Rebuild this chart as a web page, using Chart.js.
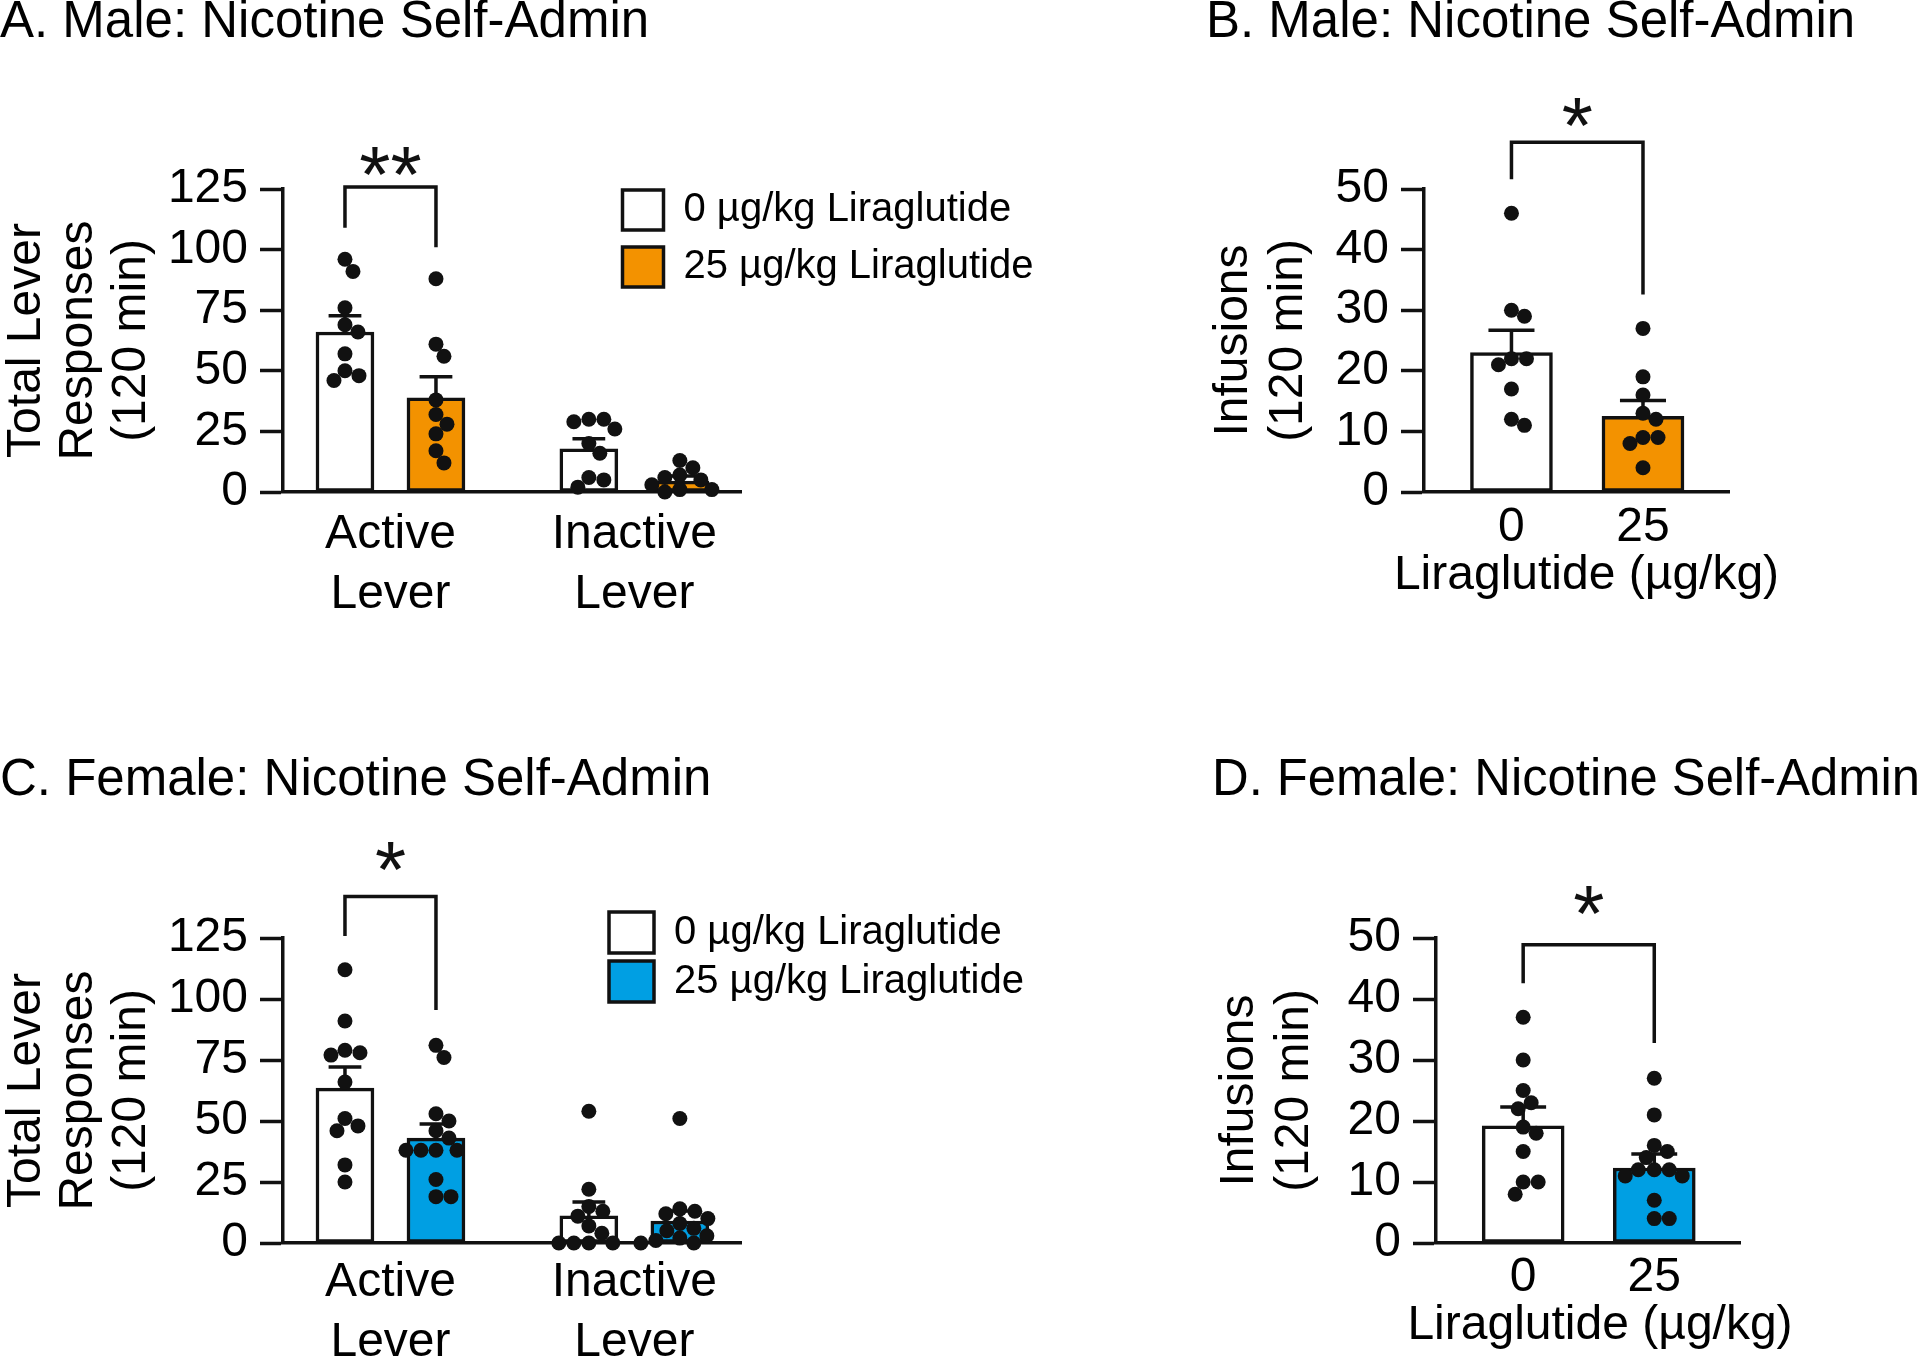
<!DOCTYPE html>
<html>
<head>
<meta charset="utf-8">
<title>Liraglutide – nicotine self-administration</title>
<script src="https://cdn.jsdelivr.net/npm/chart.js@4.4.1/dist/chart.umd.min.js"></script>
<style>
  html, body { margin: 0; padding: 0; background: #fff; }
  #page { position: relative; width: 1920px; height: 1362px; overflow: hidden; background: #fff; }
  canvas { position: absolute; }
</style>
</head>
<body>
<div id="page">
  <canvas id="panelA" width="1150" height="700" style="left:0px;top:0px;"></canvas>
  <canvas id="panelB" width="720" height="700" style="left:1200px;top:0px;"></canvas>
  <canvas id="panelC" width="1150" height="622" style="left:0px;top:740px;"></canvas>
  <canvas id="panelD" width="714" height="622" style="left:1206px;top:740px;"></canvas>
</div>
<script>
// ==========================
// DATA
// ==========================
const leverLabels = ["Active Lever", "Inactive Lever"];
const doseLabels = ["0", "25"];
const legendLabels = ["0 µg/kg Liraglutide", "25 µg/kg Liraglutide"];
const doseAxisTitle = "Liraglutide (µg/kg)";

// A. Male – total lever responses, one dot per rat
const maleActiveVeh = [96, 91, 76, 69, 66, 57, 50, 48, 46];
const maleActiveLira = [88, 61, 56, 38, 32, 28, 24, 17, 12];
const maleInactiveVeh = [30, 30, 29, 26, 20, 16, 6, 5, 2];
const maleInactiveLira = [13, 10, 7, 6, 5, 3, 1, 1, 0];
const maleLeverMeanVeh = [66, 17.8];     // [active, inactive]
const maleLeverMeanLira = [38.8, 4.5];
const maleLeverSemVeh = [6.7, 4.2];
const maleLeverSemLira = [8.7, 2.1];
const maleLeverBracket = [109, 125.8, 101]; // left leg end, top, right leg end

// B. Male – infusions
const maleInfVeh = [46, 30, 29, 22, 22, 21, 17, 12, 11];
const maleInfLira = [27, 19, 16, 13, 12, 9, 9, 8, 4];
const maleInfMean = [23, 12.5];
const maleInfSem = [3.7, 2.6];
const maleInfBracket = [51.6, 57.7, 32.6];

// C. Female – total lever responses
const femActiveVeh = [112, 91, 79, 78, 77, 66, 51, 48, 46, 32, 25];
const femActiveLira = [81, 76, 53, 50, 46, 43, 38, 38, 38, 38, 26, 19, 19];
const femInactiveVeh = [54, 22, 15, 13, 11, 7, 4, 0, 0, 0, 0];
const femInactiveLira = [51, 14, 13, 12, 10, 8, 6, 5, 3, 2, 1, 0, 0];
const femLeverMeanVeh = [63.5, 11.1];
const femLeverMeanLira = [43, 9];
const femLeverSemVeh = [8.6, 5.7];
const femLeverSemLira = [5.8, 4.1];
const femLeverBracket = [125.8, 142, 95.5];

// D. Female – infusions
const femInfVeh = [37, 30, 25, 23, 22, 19, 18, 15, 10, 10, 8];
const femInfLira = [27, 21, 16, 15, 14, 12, 12, 12, 11, 11, 7, 4, 4];
const femInfMean = [19.2, 12.3];
const femInfSem = [3.1, 2.3];
const femInfBracket = [42.6, 48.9, 32.8];

// ==========================
// STYLE
// ==========================
const FONT = '"Liberation Sans", Arial, Helvetica, sans-serif';
const INK = "#111111";
const WHITE = "#ffffff";
const ORANGE = "#f39200";
const BLUE = "#009fe3";
const DOT_R = 7.5;
const LINE_W = 3.5;
const LEVER_STEP = 2.68; // distance between lever groups, in bar units

Chart.defaults.font.family = FONT;
Chart.defaults.color = "#000";

const leverX = (s) => leverLabels.map((_, g) => g * LEVER_STEP + s);
const leverTicks = leverLabels.map((_, g) => g * LEVER_STEP + 0.5);

// ==========================
// PLUGINS
// ==========================
// legend placed at a fixed spot inside the plot
const legendSpot = {
  id: "legendSpot",
  afterLayout(chart, args, opts) {
    const lg = chart.legend;
    if (!lg || opts.x == null) return;
    const pad = lg.options.labels.padding;
    const w = lg.width, h = lg.height;
    lg.left = opts.x - pad;
    lg.top = opts.y - pad;
    lg.right = lg.left + w;
    lg.bottom = lg.top + h;
  }
};

// significance stars
const stars = {
  id: "stars",
  afterDatasetsDraw(chart, args, opts) {
    if (!opts.text) return;
    const { ctx, scales: { x, y } } = chart;
    ctx.save();
    ctx.font = `${opts.size}px ${FONT}`;
    ctx.fillStyle = INK;
    ctx.textAlign = "center";
    ctx.textBaseline = "alphabetic";
    const m = ctx.measureText(opts.text);
    const mid = (m.actualBoundingBoxAscent - m.actualBoundingBoxDescent) / 2;
    ctx.fillText(opts.text, x.getPixelForValue(opts.x), y.getPixelForValue(opts.y) + mid);
    ctx.restore();
  }
};

// x-axis caption that may be wider than the axis (scale titles get squeezed)
const caption = {
  id: "caption",
  afterDraw(chart, args, opts) {
    if (!opts.text) return;
    const { ctx, chartArea } = chart;
    ctx.save();
    ctx.font = `48px ${FONT}`;
    ctx.fillStyle = "#000";
    ctx.textAlign = "center";
    ctx.textBaseline = "middle";
    ctx.fillText(opts.text, (chartArea.left + chartArea.right) / 2 + opts.dx, opts.y);
    ctx.restore();
  }
};

// ==========================
// HELPERS
// ==========================
function errorBarPoints(xs, means, sems, capHalf) {
  const pts = [];
  xs.forEach((x, i) => {
    const top = means[i] + sems[i];
    pts.push({ x, y: means[i] }, { x, y: top }, { x, y: null },
             { x: x - capHalf, y: top }, { x: x + capHalf, y: top }, { x: x + capHalf, y: null });
  });
  return pts;
}

function bracketPoints(x0, x1, legs) {
  return [{ x: x0, y: legs[0] }, { x: x0, y: legs[1] }, { x: x1, y: legs[1] }, { x: x1, y: legs[2] }];
}

// simple beeswarm in pixel space so dots don't pile up
function beeswarm(values, center, xs, ys, r) {
  const cx = xs.getPixelForValue(center);
  const placed = [];
  return values.map(v => {
    const py = ys.getPixelForValue(v);
    let dx = 0;
    for (let k = 0; k < 300; k++) {
      const tries = k === 0 ? [0] : [k, -k];
      const hit = tries.find(t => placed.every(p => Math.hypot(p.x - (cx + t), p.y - py) >= 2 * r * 0.95));
      if (hit !== undefined) { dx = hit; break; }
    }
    placed.push({ x: cx + dx, y: py });
    return { x: xs.getValueForPixel(cx + dx), y: v };
  });
}

function spreadDots(chart) {
  const xs = chart.scales.x, ys = chart.scales.y;
  chart.data.datasets.forEach(ds => {
    if (ds.type !== "scatter") return;
    ds.data = beeswarm(ds.values, ds.center, xs, ys, DOT_R);
  });
  chart.update("none");
}

// ==========================
// PANEL BUILDER
// ==========================
function makePanel(canvasId, p) {
  const datasets = [];
  p.series.forEach(s => {
    datasets.push({
      type: "bar", label: s.label,
      data: s.xs.map((x, i) => ({ x, y: s.means[i] })),
      backgroundColor: s.color, borderColor: INK, borderWidth: LINE_W, borderSkipped: false,
      barThickness: p.barWidth, maxBarThickness: p.barWidth, grouped: false, order: 3
    });
  });
  p.series.forEach(s => {
    datasets.push({
      type: "line", label: "sem",
      data: errorBarPoints(s.xs, s.means, s.sems, p.capHalf),
      borderColor: INK, borderWidth: LINE_W, pointRadius: 0, fill: false, tension: 0,
      spanGaps: false, order: 2
    });
  });
  p.series.forEach(s => {
    s.dots.forEach((vals, i) => {
      datasets.push({
        type: "scatter", label: "dots", values: vals, center: s.xs[i],
        data: vals.map(v => ({ x: s.xs[i], y: v })),
        backgroundColor: INK, borderWidth: 0, pointRadius: DOT_R, pointHoverRadius: DOT_R,
        clip: false, order: 1
      });
    });
  });
  datasets.push({
    type: "line", label: "bracket",
    data: bracketPoints(p.series[0].xs[0], p.series[1].xs[0], p.bracket),
    borderColor: INK, borderWidth: LINE_W, pointRadius: 0, fill: false, tension: 0,
    clip: false, order: 0
  });

  const chart = new Chart(document.getElementById(canvasId), {
    type: "bar",
    data: { datasets },
    options: {
      responsive: false,
      animation: false,
      devicePixelRatio: 1,
      events: [],
      layout: { padding: { left: p.padLeft, right: 0, top: 0, bottom: 0 } },
      scales: {
        x: {
          type: "linear", min: p.xMin, max: p.xMax, offset: false,
          grid: { display: false, drawTicks: false },
          border: { display: true, color: INK, width: LINE_W },
          afterBuildTicks: (scale) => { scale.ticks = p.tickXs.map(value => ({ value })); },
          ticks: {
            font: { size: 48, lineHeight: 1.25 }, color: "#000", padding: p.xTickPad,
            maxRotation: 0, autoSkip: false,
            callback: (v, i) => p.tickLabels[i]
          },
          title: { display: false },
          afterFit: (scale) => { scale.height = p.xHeight; }
        },
        y: {
          type: "linear", min: 0, max: p.yMax,
          ticks: { stepSize: p.yStep, font: { size: 48 }, color: "#000", padding: 12 },
          grid: { drawOnChartArea: false, drawTicks: true, tickLength: 23, tickWidth: LINE_W, tickColor: INK },
          border: { display: true, color: INK, width: LINE_W },
          title: { display: true, text: p.yTitle, color: "#000",
                   font: { size: 48, lineHeight: p.yTitleLH }, padding: { top: 0, bottom: 0 } },
          afterFit: (scale) => { scale.width = p.yWidth; }
        },
        // empty right-hand axis: keeps room right of the plot without squeezing the title
        gap: {
          type: "linear", position: "right", axis: "y", min: 0, max: 1, display: true,
          grid: { display: false }, border: { display: false }, ticks: { display: false },
          afterFit: (scale) => { scale.width = p.rightGap; }
        }
      },
      plugins: {
        title: {
          display: true, text: p.title, align: "start", color: "#000",
          font: { size: 51, weight: "normal", lineHeight: 0.8 },
          padding: { top: p.titleTop, bottom: p.titleBottom }
        },
        legend: p.legend
          ? {
              display: true, position: "chartArea", align: "start",
              labels: {
                boxWidth: p.legend.boxW, boxHeight: p.legend.boxH, padding: p.legend.pad,
                font: { size: 40 }, color: "#000",
                filter: (item, data) => data.datasets[item.datasetIndex].type === "bar"
              }
            }
          : { display: false },
        legendSpot: p.legend ? { x: p.legend.x, y: p.legend.y } : {},
        stars: p.star,
        caption: p.caption || {},
        tooltip: { enabled: false }
      }
    },
    plugins: [legendSpot, stars, caption]
  });
  spreadDots(chart);
  return chart;
}

// ==========================
// PANELS
// ==========================
makePanel("panelA", {
  title: "A. Male: Nicotine Self-Admin", titleTop: 3, titleBottom: 145.2,
  yTitle: ["Total Lever", "Responses", "(120 min)"], yTitleLH: 1.1,
  yMax: 125, yStep: 25, yWidth: 283, padLeft: 0, rightGap: 409,
  xMin: -0.681, xMax: 4.352, tickXs: leverTicks, tickLabels: leverLabels.map(l => l.split(" ")),
  xHeight: 208, xTickPad: 13,
  barWidth: 58, capHalf: 0.18,
  series: [
    { label: legendLabels[0], color: WHITE, xs: leverX(0), means: maleLeverMeanVeh, sems: maleLeverSemVeh,
      dots: [maleActiveVeh, maleInactiveVeh] },
    { label: legendLabels[1], color: ORANGE, xs: leverX(1), means: maleLeverMeanLira, sems: maleLeverSemLira,
      dots: [maleActiveLira, maleInactiveLira] }
  ],
  bracket: maleLeverBracket,
  star: { text: "**", x: 0.5, y: 136.5, size: 80 },
  legend: { x: 622.5, y: 190, boxW: 41, boxH: 40, pad: 17 }
});

makePanel("panelB", {
  title: "B. Male: Nicotine Self-Admin", titleTop: 3, titleBottom: 145.2,
  yTitle: ["Infusions", "(120 min)"], yTitleLH: 1.15,
  yMax: 50, yStep: 10, yWidth: 218, padLeft: 6, rightGap: 191,
  xMin: -0.665, xMax: 1.654, tickXs: [0, 1], tickLabels: doseLabels,
  xHeight: 208, xTickPad: 6,
  caption: { text: doseAxisTitle, dx: 10, y: 576 },
  barWidth: 82, capHalf: 0.175,
  series: [
    { label: legendLabels[0], color: WHITE, xs: [0], means: [maleInfMean[0]], sems: [maleInfSem[0]], dots: [maleInfVeh] },
    { label: legendLabels[1], color: ORANGE, xs: [1], means: [maleInfMean[1]], sems: [maleInfSem[1]], dots: [maleInfLira] }
  ],
  bracket: maleInfBracket,
  star: { text: "*", x: 0.5, y: 62.6, size: 80 },
  legend: null
});

makePanel("panelC", {
  title: "C. Female: Nicotine Self-Admin", titleTop: 21, titleBottom: 136.2,
  yTitle: ["Total Lever", "Responses", "(120 min)"], yTitleLH: 1.1,
  yMax: 125, yStep: 25, yWidth: 283, padLeft: 0, rightGap: 409,
  xMin: -0.681, xMax: 4.352, tickXs: leverTicks, tickLabels: leverLabels.map(l => l.split(" ")),
  xHeight: 119, xTickPad: 10,
  barWidth: 58, capHalf: 0.18,
  series: [
    { label: legendLabels[0], color: WHITE, xs: leverX(0), means: femLeverMeanVeh, sems: femLeverSemVeh,
      dots: [femActiveVeh, femInactiveVeh] },
    { label: legendLabels[1], color: BLUE, xs: leverX(1), means: femLeverMeanLira, sems: femLeverSemLira,
      dots: [femActiveLira, femInactiveLira] }
  ],
  bracket: femLeverBracket,
  star: { text: "*", x: 0.5, y: 158.3, size: 80 },
  legend: { x: 609, y: 172, boxW: 45, boxH: 41, pad: 8 }
});

makePanel("panelD", {
  title: "D. Female: Nicotine Self-Admin", titleTop: 21, titleBottom: 136.2,
  yTitle: ["Infusions", "(120 min)"], yTitleLH: 1.15,
  yMax: 50, yStep: 10, yWidth: 224, padLeft: 6, rightGap: 180,
  xMin: -0.665, xMax: 1.654, tickXs: [0, 1], tickLabels: doseLabels,
  xHeight: 119, xTickPad: 5,
  caption: { text: doseAxisTitle, dx: 12, y: 586 },
  barWidth: 82, capHalf: 0.175,
  series: [
    { label: legendLabels[0], color: WHITE, xs: [0], means: [femInfMean[0]], sems: [femInfSem[0]], dots: [femInfVeh] },
    { label: legendLabels[1], color: BLUE, xs: [1], means: [femInfMean[1]], sems: [femInfSem[1]], dots: [femInfLira] }
  ],
  bracket: femInfBracket,
  star: { text: "*", x: 0.5, y: 56.1, size: 80 },
  legend: null
});
</script>
</body>
</html>
